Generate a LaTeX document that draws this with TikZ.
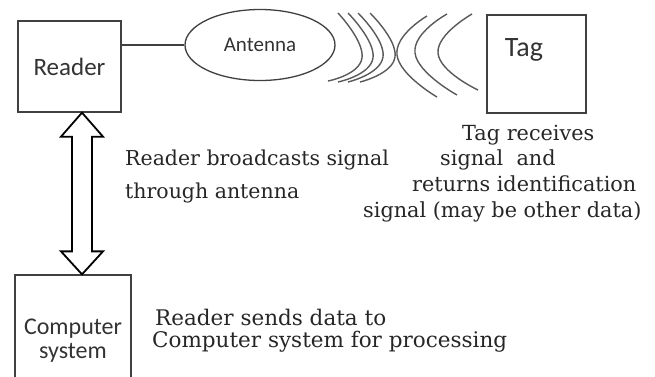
\documentclass[tikz,border=0pt]{standalone}
\usepackage{fontspec}
\setmainfont{DejaVu Serif}
\newfontfamily\boxfont{Carlito}
\usetikzlibrary{calc,shapes.geometric}

\begin{document}
\begin{tikzpicture}[x=1pt,y=-1pt,
  ink/.style={draw=black!75, line width=1.3pt},
  box/.style={ink, rectangle, inner sep=0pt},
  boxtext/.style={font=\boxfont\fontsize{25}{24}\selectfont, text=black!80, align=center, inner sep=0pt},
  note/.style={font=\fontsize{20.5}{33}\selectfont, text=black!85, align=left, inner sep=0pt, anchor=north west},
  wave/.style={draw=black!65, line width=1.4pt},
  fatarrow/.style={draw=black, line width=1.8pt, line join=miter},
]
\useasboundingbox (0,0) rectangle (655,376);

% blocks
\node[box, boxtext, minimum width=103, minimum height=91] (reader) at (69.5,66.5) {Reader};
\node[ink, ellipse, inner sep=0pt, minimum width=150, minimum height=71,
      font=\boxfont\fontsize{21}{21}\selectfont, text=black!80] (ant) at (260,45) {Antenna};
\node[box, minimum width=99, minimum height=98] (tag) at (536.5,64) {};
\node[boxtext, font=\boxfont\fontsize{28}{28}\selectfont] (taglbl) at (524,50) {Tag};
\node[box, boxtext, font=\boxfont\fontsize{24}{24}\selectfont, minimum width=116, minimum height=132] (comp) at (73,341) {Computer\\system};

% reader to antenna
\draw[ink] (reader.east |- ant.west) -- (ant.west);

% two-way link between reader and computer
\coordinate (atop) at ($(reader.south)+(12.5,0)$);
\coordinate (abot) at ($(comp.north)+(9,0)$);
\draw[fatarrow] (atop) -- ++(21,24) -- ++(-11,0) -- ($(abot)+(10,-23)$) -- ++(11,0)
  -- (abot) -- ++(-21,-23) -- ++(11,0) -- ($(atop)+(-10,24)$) -- ++(-11,0) -- cycle;

% radio waves: outgoing
\draw[wave] plot[smooth, tension=0.9] coordinates {(338,13) (362,58) (328,81)};
\draw[wave] plot[smooth, tension=0.9] coordinates {(348,13) (373,58) (338,82)};
\draw[wave] plot[smooth, tension=0.9] coordinates {(358,13) (383,57) (348,82)};
\draw[wave] plot[smooth, tension=0.9] coordinates {(370,13) (395,57) (360,82)};
% radio waves: returning
\draw[wave] plot[smooth, tension=0.9] coordinates {(427,16) (397,55) (437,97)};
\draw[wave] plot[smooth, tension=0.9] coordinates {(447,14) (415,53) (457,95)};
\draw[wave] plot[smooth, tension=0.9] coordinates {(472,14) (438,53) (478,90)};

% captions
\node[note] (bcast) at (125,149.5) {Reader broadcasts signal\\through antenna};
\node[note, font=\fontsize{20.8}{25.7}\selectfont] (tagnote) at (363,124.5)
  {\hspace*{99pt}Tag receives\\\hspace*{77pt}signal\ \ and\\\hspace*{49pt}returns identification\\signal (may be other data)};
\node[note, font=\fontsize{21.5}{22}\selectfont] (sendnote) at (155,308.5)
  {Reader sends data to\\\hspace*{-3pt}Computer system for processing};
\end{tikzpicture}
\end{document}
